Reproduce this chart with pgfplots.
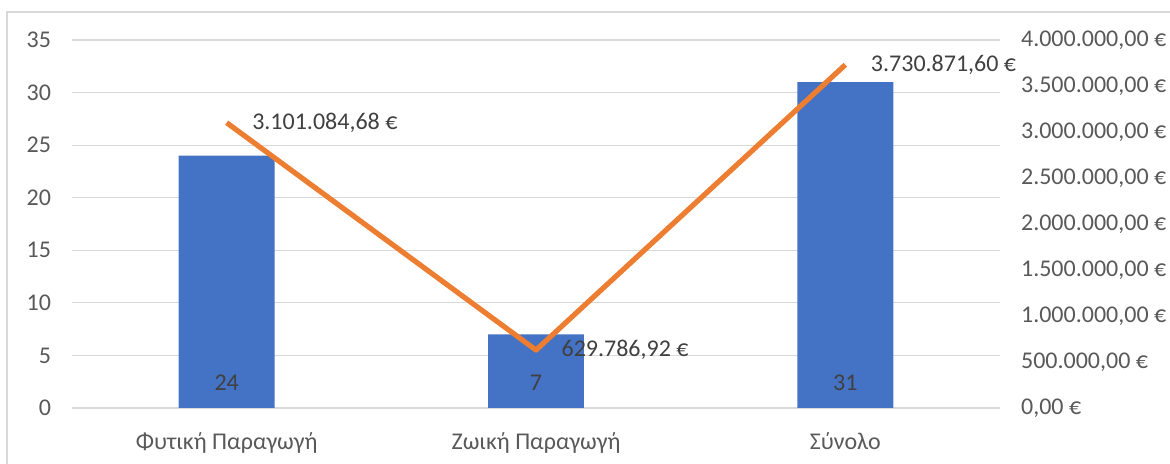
\documentclass[border=0pt]{standalone}
\usepackage{pgfplots}
\pgfplotsset{compat=1.18}
\usepackage{fontspec}
\setmainfont{Carlito}
\definecolor{barblue}{HTML}{4472C4}
\definecolor{lineorange}{HTML}{ED7D31}
\definecolor{gridgray}{HTML}{D9D9D9}
\definecolor{ticktext}{HTML}{595959}
\definecolor{labeltext}{HTML}{404040}

\begin{document}
\begin{tikzpicture}
\useasboundingbox (-36pt,-28pt) rectangle (549pt,204pt);
\pgfplotsset{
  base/.style={
    scale only axis,
    width=464pt, height=184pt,
    xmin=-0.5, xmax=2.5,
    ymin=0,
    axis line style={draw=none},
    major tick length=0pt,
    tick label style={font=\fontsize{12}{14}\selectfont, text=ticktext},
    /pgf/number format/assume math mode=true,
  }
}
\begin{axis}[
  base,
  ymax=35,
  ytick={0,5,...,35},
  ymajorgrids=true,
  grid style={gridgray, line width=0.6pt},
  xtick={0,1,2},
  xticklabels={Φυτική Παραγωγή, Ζωική Παραγωγή, Σύνολο},
  xticklabel style={yshift=-9pt},
  yticklabel style={xshift=-7pt},
]
\addplot[ybar, bar width=0.31, fill=barblue, draw=none] coordinates {
  (0,24) (1,7) (2,31)
};
\addplot[draw=none, mark=none, nodes near coords, point meta=explicit symbolic,
  every node near coord/.style={anchor=center, yshift=12.5pt, text=labeltext,
    font=\fontsize{12}{14}\selectfont}] coordinates {
  (0,0) [24] (1,0) [7] (2,0) [31]
};
\end{axis}
\begin{axis}[
  base,
  ymax=4000000,
  scaled y ticks=false,
  axis y line*=right,
  axis x line=none,
  ytick={0,500000,1000000,1500000,2000000,2500000,3000000,3500000,4000000},
  yticklabels={{0,00 €},{500.000,00 €},{1.000.000,00 €},{1.500.000,00 €},{2.000.000,00 €},{2.500.000,00 €},{3.000.000,00 €},{3.500.000,00 €},{4.000.000,00 €}},
  yticklabel style={xshift=7pt},
  xtick=\empty,
]
\addplot[lineorange, line width=2.6pt, mark=none, line join=round,
  nodes near coords, point meta=explicit symbolic,
  every node near coord/.style={anchor=west, inner sep=0pt, xshift=11.5pt, text=labeltext,
    font=\fontsize{12}{14}\selectfont}] coordinates {
  (0,3101084.68) [3.101.084,68 €]
  (1,629786.92) [629.786,92 €]
  (2,3730871.60) [3.730.871,60 €]
};
\end{axis}
\draw[gridgray, line width=0.6pt] (-32.5pt,-60pt) -- (-32.5pt,198pt) -- (600pt,198pt);
\end{tikzpicture}
\end{document}
